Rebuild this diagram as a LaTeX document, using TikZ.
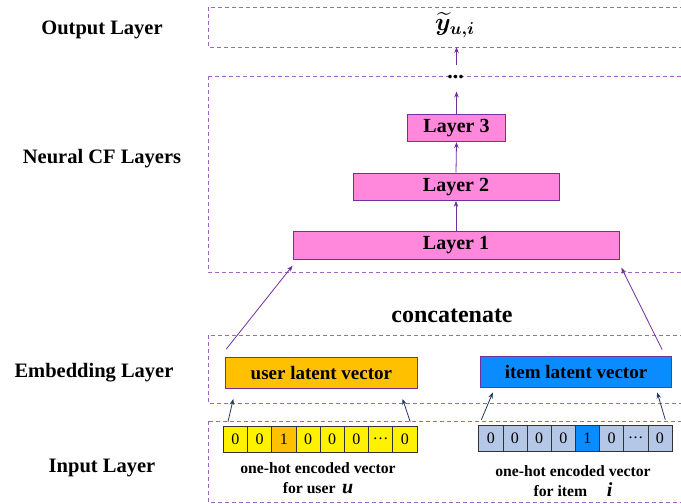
\documentclass[tikz,border=0pt]{standalone}
\usepackage{amsmath,bm}
\usepackage{fontspec}
\setmainfont{Liberation Serif}
\usetikzlibrary{arrows.meta,calc}

\definecolor{frame}{RGB}{160,100,200}
\definecolor{violet}{RGB}{112,48,160}
\definecolor{pinkfill}{RGB}{255,136,220}
\definecolor{userfill}{RGB}{255,192,0}
\definecolor{itemfill}{RGB}{10,140,255}
\definecolor{cellblue}{RGB}{180,199,231}
\definecolor{navy}{RGB}{31,56,100}

\tikzset{
  layerbox/.style={draw=frame, dash pattern=on 4pt off 3pt, line width=1pt},
  sidelabel/.style={font=\fontsize{20.5}{24}\selectfont\bfseries},
  nnlayer/.style={draw=violet, fill=pinkfill, line width=0.8pt, inner sep=0pt,
    minimum height=27.5pt, font=\fontsize{20}{24}\selectfont\bfseries},
  latent/.style={draw=violet, line width=0.8pt, inner sep=0pt,
    minimum width=191.5pt, minimum height=31pt, font=\fontsize{19}{23}\selectfont\bfseries},
  cell/.style={draw=black!80, line width=0.6pt, inner sep=0pt,
    minimum width=24.2pt, minimum height=26pt, font=\fontsize{16}{19}\selectfont},
  caption/.style={align=center, font=\fontsize{15.7}{20}\selectfont\bfseries},
  uparrow/.style={draw=violet, line width=0.8pt, -{Stealth[length=6pt,width=4.5pt]}},
  inarrow/.style={draw=navy, line width=0.8pt, -{Stealth[length=6pt,width=4.5pt]}},
}

\begin{document}
\begin{tikzpicture}[x=1pt, y=-1pt]
\path[use as bounding box] (0,0) rectangle (681,504);
\clip (0,0) rectangle (681,504);

% dashed layer frames
\draw[layerbox] (208,7) rectangle (700,47);
\draw[layerbox] (208,76) rectangle (700,272);
\draw[layerbox] (208,335) rectangle (700,403);
\draw[layerbox] (208,421) rectangle (700,502);
\coordinate (outbottom) at (456.5,47);

% layer names
\node[sidelabel] (lbout) at (102,30) {Output Layer};
\node[sidelabel] (lbncf) at (102,159) {Neural CF Layers};
\node[sidelabel] (lbemb) at (94,373) {Embedding Layer};
\node[sidelabel] (lbin) at (102,468) {Input Layer};

% output
\node[inner sep=0pt] (yhat) at (455,25) {\fontsize{20}{24}\selectfont\scalebox{1.2}{$\widetilde{\bm{y}}_{\bm{u,i}}$}};

% neural CF layers
\node[nnlayer, minimum width=326pt] (l1) at (456,245.5) {Layer 1};
\node[nnlayer, minimum width=206pt] (l2) at (456,186.7) {Layer 2};
\node[nnlayer, minimum width=98pt] (l3) at (456.5,128) {Layer 3};
\node[font=\fontsize{22}{22}\selectfont\bfseries, inner sep=0pt] (dots) at (455.5,77) {...};
\coordinate (outfoot) at (456.5,65);

\draw[uparrow] (l1.north) -- (l2.south);
\draw[uparrow] (l2.north) -- (l3.south);
\draw[uparrow] (l3.north) -- (456.5,91.5);
\draw[uparrow] (outfoot) -- (outbottom);

% concatenate
\node[font=\fontsize{24}{28}\selectfont\bfseries] (concat) at (452,316) {concatenate};

% embedding layer
\node[latent, fill=userfill] (ul) at (321.4,373) {user latent vector};
\node[latent, fill=itemfill] (il) at (576,371.5) {item latent vector};

\draw[uparrow] ($(ul.north west)+(1,-8)$) -- ($(l1.south west)+(0,6)$);
\draw[uparrow] ($(il.north east)+(-10,-6)$) -- ($(l1.south east)+(2,8)$);

% one-hot input vectors
\foreach \v [count=\k] in {0,0,1,0,0,0,{.\kern1.2pt.\kern1.2pt.},0} {
  \pgfmathsetmacro{\cx}{223.3+12.1+24.2*(\k-1)}
  \ifnum\k=3
    \node[cell, fill=userfill] (u\k) at (\cx,439) {\v};
  \else
    \node[cell, fill=yellow] (u\k) at (\cx,439) {\v};
  \fi
}
\foreach \v [count=\k] in {0,0,0,0,1,0,{.\kern1.2pt.\kern1.2pt.},0} {
  \pgfmathsetmacro{\cx}{478.7+12.08+24.16*(\k-1)}
  \ifnum\k=5
    \node[cell, fill=itemfill] (i\k) at (\cx,438) {\v};
  \else
    \node[cell, fill=cellblue] (i\k) at (\cx,438) {\v};
  \fi
}

\node[caption] (ucap) at (318,478) {one-hot encoded vector\\for user \,{\fontsize{20}{20}\selectfont\itshape u}};
\node[caption] (icap) at (573,481) {one-hot encoded vector\\for item \quad{\fontsize{20}{20}\selectfont\itshape i}};

% input to embedding
\draw[inarrow] ($(u1.north west)+(5,-4)$) -- ($(ul.south west)+(8,10)$);
\draw[inarrow] ($(u8.north east)+(-7,-4)$) -- ($(ul.south east)+(-15,10)$);
\draw[inarrow] ($(i1.north west)+(3,-5)$) -- ($(il.south west)+(13,5)$);
\draw[inarrow] ($(i8.north east)+(-7,-5)$) -- ($(il.south east)+(-15,5)$);
\end{tikzpicture}
\end{document}
